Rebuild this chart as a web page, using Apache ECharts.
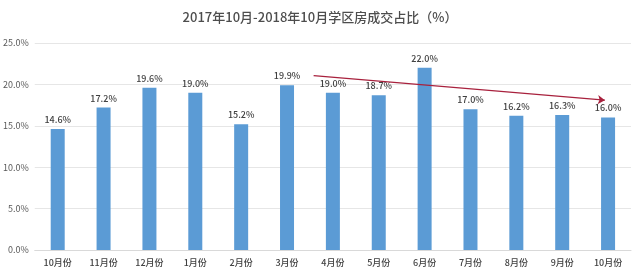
<!DOCTYPE html>
<html>
<head>
<meta charset="utf-8">
<script src="https://cdn.jsdelivr.net/npm/echarts@6/dist/echarts.min.js"></script>
<style>
  html, body { margin: 0; padding: 0; background: #fff; }
  #main { width: 640px; height: 272px; }
</style>
</head>
<body>
<div id="main"></div>
<script>
// 月份
const months = ['10月份', '11月份', '12月份', '1月份', '2月份', '3月份', '4月份',
  '5月份', '6月份', '7月份', '8月份', '9月份', '10月份']
// 学区房成交占比 (%)
const shares = [14.6, 17.2, 19.6, 19.0, 15.2, 19.9, 19.0, 18.7, 22.0, 17.0, 16.2, 16.3, 16.0]
// 趋势箭头 [类目位置, 数值]
const arrowStart = [5.58, 21.05]
const arrowEnd = [11.93, 18.1]

const font = 'Noto Sans CJK SC'
const chart = echarts.init(document.getElementById('main'))

const option = {
  backgroundColor: '#fff',
  animation: false,
  title: {
    text: '2017年10月-2018年10月学区房成交占比（%）',
    left: 'center',
    top: 6,
    textStyle: { fontFamily: font, fontSize: 13, fontWeight: 500, color: '#4d4d4d' }
  },
  grid: { left: 34, right: 9, top: 43, bottom: 22 },
  xAxis: [{
    type: 'category',
    data: months,
    axisTick: { show: false },
    axisLine: { lineStyle: { color: '#d9d9d9' } },
    axisLabel: { fontFamily: font, fontSize: 9, fontWeight: 500, color: '#404040', margin: 8 }
  }, {
    type: 'value',
    min: -0.5,
    max: 12.5,
    show: false
  }],
  yAxis: {
    type: 'value',
    min: 0,
    max: 25,
    interval: 5,
    axisLine: { show: false },
    axisTick: { show: false },
    splitLine: { lineStyle: { color: '#e6e6e6' } },
    axisLabel: {
      fontFamily: font, fontSize: 9, color: '#595959', margin: 6,
      formatter: v => v.toFixed(1) + '%'
    }
  },
  series: [{
    type: 'bar',
    data: shares,
    barWidth: 14,
    itemStyle: { color: '#5b9bd5' },
    label: {
      show: true,
      position: 'top',
      distance: 5,
      fontFamily: font,
      fontSize: 9,
      fontWeight: 500,
      color: '#404040',
      formatter: p => p.value.toFixed(1) + '%'
    }
  }, {
    type: 'line',
    xAxisIndex: 1,
    data: [],
    markLine: {
      silent: true,
      symbol: ['none', 'arrow'],
      symbolSize: 7,
      label: { show: false },
      lineStyle: { color: '#a8213d', width: 1.3, type: 'solid' },
      data: [[{ coord: arrowStart }, { coord: arrowEnd }]]
    }
  }]
}

chart.setOption(option)
</script>
</body>
</html>
